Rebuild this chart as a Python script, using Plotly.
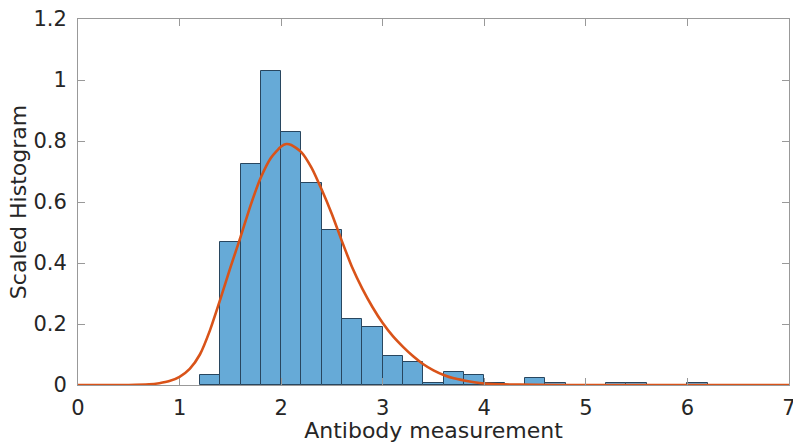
import plotly.graph_objects as go

# Histogram bins (left edges, width 0.2) and scaled heights
bin_left = [1.2, 1.4, 1.6, 1.8, 2.0, 2.2, 2.4, 2.6, 2.8, 3.0, 3.2, 3.4, 3.6, 3.8,
            4.0, 4.2, 4.4, 4.6, 4.8, 5.0, 5.2, 5.4, 5.6, 5.8, 6.0]
bin_height = [0.033, 0.469, 0.725, 1.03, 0.829, 0.663, 0.507, 0.218, 0.191, 0.096,
              0.077, 0.008, 0.042, 0.0335, 0.005, 0.0, 0.024, 0.008, 0.0, 0.0,
              0.008, 0.008, 0.0, 0.0, 0.008]
bin_width = 0.2

# Fitted density curve
curve_x = [0, 0.5, 0.7, 0.8, 0.9, 1.0, 1.1, 1.2, 1.3, 1.4, 1.5, 1.6, 1.7, 1.8, 1.9,
           2.0, 2.05, 2.1, 2.2, 2.3, 2.4, 2.5, 2.6, 2.7, 2.8, 2.9, 3.0, 3.1, 3.2,
           3.3, 3.4, 3.5, 3.6, 3.7, 3.8, 3.9, 4.0, 4.2, 4.5, 5.0, 6.0, 7.0]
curve_y = [0, 0, 0.002, 0.006, 0.013, 0.027, 0.053, 0.10, 0.18, 0.28, 0.385, 0.485,
           0.59, 0.68, 0.745, 0.782, 0.79, 0.787, 0.763, 0.712, 0.64, 0.56, 0.47,
           0.385, 0.315, 0.255, 0.203, 0.16, 0.125, 0.094, 0.068, 0.048, 0.033,
           0.022, 0.015, 0.009, 0.005, 0.002, 0.0005, 0, 0, 0]

x_ticks = [0, 1, 2, 3, 4, 5, 6, 7]
y_ticks = [0, 0.2, 0.4, 0.6, 0.8, 1.0, 1.2]
y_ticklabels = ["0", "0.2", "0.4", "0.6", "0.8", "1", "1.2"]

fig = go.Figure()
fig.add_trace(go.Bar(
    x=bin_left, y=bin_height, width=bin_width, offset=0,
    marker=dict(color="rgb(102,170,215)", line=dict(color="rgb(40,70,95)", width=1)),
    showlegend=False, hoverinfo="skip",
))
fig.add_trace(go.Scatter(
    x=curve_x, y=curve_y, mode="lines",
    line=dict(color="#D95319", width=2.6, shape="spline", smoothing=0.6),
    showlegend=False, hoverinfo="skip",
))

font_family = "DejaVu Sans"
axis_color = "#999999"
fig.update_layout(
    width=793, height=443,
    margin=dict(l=78, r=4, t=19, b=58, pad=0),
    paper_bgcolor="white", plot_bgcolor="white",
    font=dict(family=font_family, size=20, color="#262626"),
    bargap=0,
)
fig.update_xaxes(
    range=[0, 7], tickvals=x_ticks, ticktext=[str(t) for t in x_ticks],
    ticks="inside", ticklen=7, tickcolor=axis_color, tickwidth=1,
    showline=True, linecolor=axis_color, linewidth=1, mirror="ticks",
    showgrid=False, zeroline=False, automargin=False,
    tickfont=dict(size=21, color="#262626"), ticklabelstandoff=4,
    ticklabeloverflow="allow",
    title=dict(text="Antibody measurement", font=dict(size=22, color="#262626"), standoff=1),
)
fig.update_yaxes(
    range=[0, 1.2], tickvals=y_ticks, ticktext=y_ticklabels,
    ticks="inside", ticklen=7, tickcolor=axis_color, tickwidth=1,
    showline=True, linecolor=axis_color, linewidth=1, mirror="ticks",
    showgrid=False, zeroline=False, automargin=False,
    tickfont=dict(size=21, color="#262626"), ticklabelstandoff=6,
    title=dict(text="Scaled Histogram", font=dict(size=22, color="#262626"), standoff=0),
)

fig.write_html("out.html")
